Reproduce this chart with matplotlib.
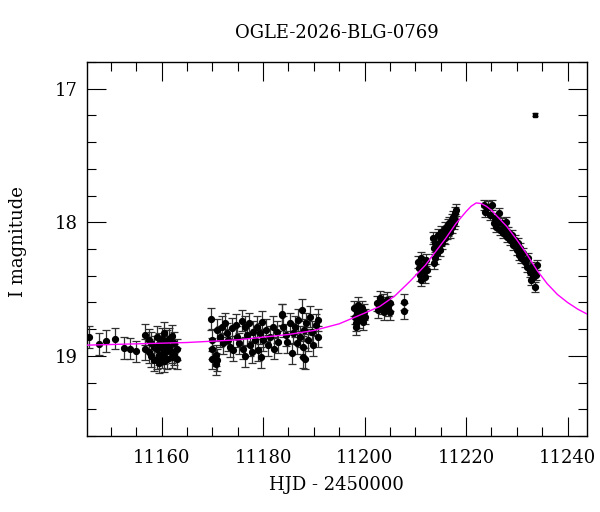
import numpy as np
import matplotlib
matplotlib.use("Agg")
import matplotlib.pyplot as plt
from matplotlib.ticker import MultipleLocator

# OGLE photometry
# season 1 (early baseline)
t1 = [11145.7, 11147.7, 11149.0, 11150.9, 11152.6, 11153.8, 11154.9, 11156.7,
      11156.8, 11157.5, 11157.5, 11158.0, 11158.0, 11158.5, 11158.5, 11159.0,
      11159.0, 11159.0, 11159.5, 11159.5, 11159.5, 11160.0, 11160.0, 11160.0,
      11160.5, 11160.5, 11160.5, 11160.5, 11161.0, 11161.0, 11161.0, 11161.5,
      11161.5, 11162.0, 11162.0, 11162.0, 11162.5, 11162.5, 11163.0, 11163.0]
m1 = [18.86, 18.91, 18.89, 18.87, 18.94, 18.945, 18.965, 18.84,
      18.95, 18.88, 18.97, 18.90, 19.00, 18.93, 19.03, 18.86,
      18.95, 19.02, 18.91, 18.99, 19.05, 18.87, 18.94, 19.01,
      18.83, 18.92, 18.98, 19.04, 18.89, 18.96, 19.02, 18.87,
      18.93, 18.85, 18.97, 19.01, 18.90, 18.99, 18.95, 19.02]
e1 = 0.08

# season 2 (baseline, slow rise)
t2 = [11169.72, 11169.85, 11169.85, 11169.85, 11170.70, 11170.83, 11171.49, 11171.82,
      11172.15, 11172.48, 11172.80, 11173.13, 11173.46, 11173.79, 11174.12, 11174.64,
      11174.91, 11175.30, 11175.76, 11175.96, 11176.42, 11176.75, 11177.27, 11177.40,
      11177.73, 11178.06, 11178.39, 11178.72, 11179.04, 11179.37, 11179.70, 11180.03,
      11180.55, 11181.02, 11181.34, 11181.87, 11182.13, 11182.66, 11182.99, 11183.64,
      11183.97, 11184.50, 11184.76, 11185.28, 11185.61, 11185.94, 11186.27, 11186.60,
      11186.93, 11187.25, 11187.58, 11187.78, 11188.04, 11188.44, 11188.90, 11189.22,
      11189.55, 11189.88, 11190.41, 11190.87, 11190.87, 11170.7, 11171.0, 11176.5,
      11179.5, 11187.8, 11188.2, 11183.7]
m2 = [18.725, 18.882, 18.945, 19.02, 18.995, 18.807, 18.857, 18.782,
      18.907, 18.757, 18.832, 18.882, 18.932, 18.795, 18.957, 18.77,
      18.857, 18.907, 18.737, 18.945, 18.782, 18.845, 18.757, 18.92,
      18.97, 18.82, 18.882, 18.782, 18.957, 18.832, 18.745, 18.882,
      18.807, 18.92, 18.857, 18.782, 18.945, 18.82, 18.895, 18.695,
      18.782, 18.845, 18.895, 18.757, 18.982, 18.832, 18.782, 18.907,
      18.732, 18.857, 18.657, 18.932, 18.807, 18.757, 18.882, 18.707,
      18.82, 18.92, 18.77, 18.732, 18.857, 19.06, 19.03, 19.0,
      19.01, 19.01, 19.02, 18.69]
e2 = 0.08

# season 3 (start of the rise)
t3 = [11197.89, 11198.08, 11198.28, 11198.55, 11198.74, 11198.94, 11199.20, 11199.40,
      11199.60, 11199.86, 11200.06, 11198.41, 11202.49, 11202.68, 11203.01, 11203.34,
      11203.54, 11203.80, 11204.00, 11204.33, 11204.65, 11204.98, 11204.98, 11207.81,
      11207.81]
m3 = [18.645, 18.707, 18.757, 18.67, 18.62, 18.732, 18.695, 18.645,
      18.745, 18.67, 18.707, 18.782, 18.607, 18.657, 18.57, 18.632,
      18.595, 18.67, 18.62, 18.582, 18.645, 18.607, 18.67, 18.595,
      18.665]
e3 = 0.058

# season 4 (steep rise)
t4 = [11210.57, 11210.76, 11210.89, 11211.09, 11211.22, 11211.42, 11211.68, 11211.88,
      11212.08, 11212.21, 11213.52, 11213.72, 11213.85, 11213.98, 11214.18, 11214.51,
      11214.64, 11214.84, 11215.03, 11215.16, 11215.36, 11215.56, 11215.82, 11215.95,
      11216.15, 11216.35, 11216.48, 11216.68, 11216.87, 11217.14, 11217.27, 11217.46,
      11217.66, 11217.79, 11217.92, 11218.12, 11213.72]
m4 = [18.294, 18.344, 18.394, 18.432, 18.27, 18.37, 18.32, 18.407,
      18.282, 18.357, 18.119, 18.194, 18.269, 18.157, 18.232, 18.094,
      18.169, 18.207, 18.132, 18.069, 18.157, 18.107, 18.044, 18.119,
      18.082, 18.019, 18.057, 18.007, 18.069, 17.982, 18.032, 17.957,
      18.007, 17.932, 17.982, 17.907, 18.307]
e4 = 0.045

# season 5 (decline after peak)
t5 = [11223.51, 11223.71, 11224.36, 11224.69, 11225.02, 11225.48, 11225.68, 11226.00,
      11226.33, 11226.53, 11226.79, 11226.99, 11227.32, 11227.65, 11227.84, 11228.11,
      11228.30, 11228.63, 11228.96, 11229.29, 11229.62, 11229.95, 11230.27, 11230.47,
      11230.73, 11230.93, 11231.26, 11231.59, 11231.92, 11232.24, 11232.57, 11232.90,
      11233.10, 11233.36, 11233.56, 11233.76, 11233.89, 11232.90]
m5 = [17.870, 17.920, 17.882, 17.945, 17.870, 18.007, 17.970, 18.032,
      17.995, 17.932, 18.057, 18.007, 18.082, 18.045, 17.995, 18.107,
      18.070, 18.132, 18.095, 18.170, 18.132, 18.207, 18.157, 18.245,
      18.195, 18.270, 18.232, 18.295, 18.332, 18.270, 18.370, 18.332,
      18.407, 18.357, 18.482, 18.395, 18.320, 18.432]
e5 = 0.038

# lone bright outlier
t_out = [11233.56]
m_out = [17.194]
e_out = 0.012

# model light curve
model_t = [11145, 11155, 11165, 11175, 11185, 11190, 11195, 11200, 11203, 11206,
           11209, 11212, 11214, 11216, 11218, 11220, 11221, 11222, 11223, 11224,
           11225, 11226, 11228, 11230, 11232, 11234, 11236, 11238, 11240, 11242,
           11244]
model_m = [18.92, 18.91, 18.90, 18.88, 18.84, 18.81, 18.76, 18.68, 18.63, 18.55,
           18.44, 18.32, 18.22, 18.12, 18.01, 17.92, 17.88, 17.855, 17.86, 17.88,
           17.91, 17.95, 18.03, 18.13, 18.24, 18.36, 18.46, 18.54, 18.60, 18.65,
           18.69]

plt.rcParams["font.family"] = ["DejaVu Serif"]

fig = plt.figure(figsize=(6.0, 5.12), dpi=100)
ax = fig.add_axes([0.145, 0.1484, 0.833, 0.7305])

for t, m, e in [(t1, m1, e1), (t2, m2, e2), (t3, m3, e3), (t4, m4, e4),
                (t5, m5, e5)]:
    ax.errorbar(t, m, yerr=e, fmt="o", color="black", ms=4.2,
                ecolor="#303030", elinewidth=0.9, capsize=2.6, capthick=0.9,
                zorder=2)
ax.errorbar(t_out, m_out, yerr=e_out, fmt="s", color="black", ms=3.0,
            ecolor="#303030", elinewidth=0.9, capsize=2.0, capthick=0.9,
            zorder=2)

ax.plot(model_t, model_m, color="#ff00ff", lw=1.0, zorder=3)

ax.set_xlim(11145.3, 11243.8)
ax.set_ylim(19.6, 16.8)

ax.xaxis.set_major_locator(MultipleLocator(20))
ax.xaxis.set_minor_locator(MultipleLocator(5))
ax.yaxis.set_major_locator(MultipleLocator(1))
ax.yaxis.set_minor_locator(MultipleLocator(0.2))
ax.tick_params(which="both", direction="in", top=True, right=True,
               width=0.8, labelsize=13)
ax.tick_params(which="major", length=14)
ax.tick_params(which="minor", length=6.8)
ax.tick_params(axis="x", pad=9)
ax.tick_params(axis="y", pad=7)
for sp in ax.spines.values():
    sp.set_linewidth(1.0)

ax.set_xlabel("HJD - 2450000", fontsize=13)
ax.xaxis.set_label_coords(0.5, -0.131)
ax.xaxis.label.set_va("center")
ax.set_ylabel("I magnitude", fontsize=13)
ax.yaxis.set_label_coords(-0.138, 0.52)
ax.yaxis.label.set_va("center")

fig.text(0.5617, 0.935, "OGLE-2026-BLG-0769", ha="center", va="center",
         fontsize=13)

fig.savefig("out.png", dpi=100)
